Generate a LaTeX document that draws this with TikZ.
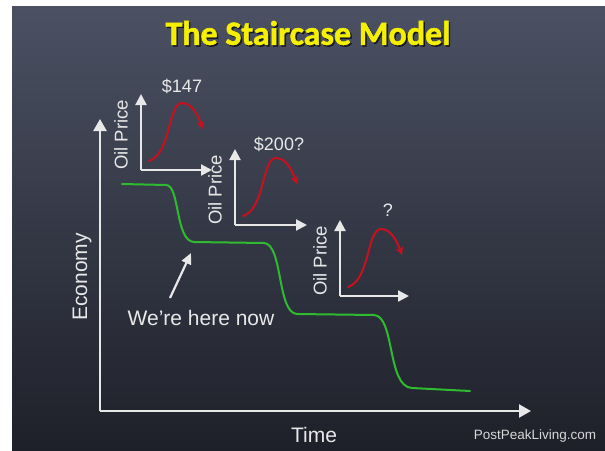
\documentclass[tikz,border=0pt]{standalone}
\usepackage{fontspec}
\setmainfont{Liberation Sans}
\newfontfamily\titlefont[FakeBold=1.5]{Carlito}
\usetikzlibrary{arrows.meta}
\definecolor{bgtop}{HTML}{4B5163}
\definecolor{bgbot}{HTML}{1E2029}
\definecolor{chalk}{HTML}{E8E8E8}
\definecolor{chalkgreen}{HTML}{2FBB2F}
\definecolor{chalkred}{HTML}{C8101E}
\definecolor{titleyellow}{HTML}{F4F000}
\definecolor{credit}{HTML}{D8D8D8}
\tikzset{
  chalkline/.style={draw=chalk,line width=2.2pt},
  bigarrow/.style={chalkline,-{Triangle[width=13pt,length=12pt]}},
  smallarrow/.style={chalkline,-{Triangle[width=11pt,length=11pt]}},
  redcurve/.style={draw=chalkred,line width=2pt,line cap=round,-{Stealth[length=8pt,width=8pt]}},
  greencurve/.style={draw=chalkgreen,line width=2pt,line cap=round},
  lbl/.style={text=chalk,inner sep=0pt,font=\fontsize{21}{25}\selectfont},
  oillbl/.style={text=chalk,inner sep=0pt,rotate=90,font=\fontsize{18.5}{22}\selectfont},
  pricelbl/.style={text=chalk,inner sep=0pt,font=\fontsize{18}{22}\selectfont},
  titlestyle/.style={inner sep=0pt,font=\titlefont\bfseries\fontsize{34}{38}\selectfont},
}
\begin{document}
\begin{tikzpicture}[x=1pt,y=-1pt]
\useasboundingbox (0,0) rectangle (605,450);
\fill[white] (0,0) rectangle (605,450);
\shade[top color=bgtop,bottom color=bgbot] (12,6) rectangle (605,450);

% title with shadow
\node[titlestyle,text=black,opacity=0.6] (titleshadow) at (309.5,34.5) {The Staircase Model};
\node[titlestyle,text=titleyellow] (title) at (308,33) {The Staircase Model};

% main axes
\coordinate (origin) at (100,411);
\coordinate (ytip) at (100,119);
\coordinate (xtip) at (531,411);
\draw[bigarrow] (origin) -- (ytip);
\draw[bigarrow] (origin) -- (xtip);
\node[lbl,rotate=90] (econ) at (82,277) {Economy};
\node[lbl] (time) at (314,435) {Time};
\node[text=credit,inner sep=0pt,font=\fontsize{13.5}{16}\selectfont] (credit) at (535,436) {PostPeakLiving.com};

% staircase
\draw[greencurve] (122,184) -- (166,185)
  .. controls (180,185) and (175,241) .. (194,242)
  -- (264,243)
  .. controls (283,244) and (277,313) .. (297,314)
  -- (374,315)
  .. controls (395,316) and (387,387) .. (412,388)
  -- (470,391);

% we're here now
\node[lbl] (here) at (201,318) {We’re here now};
\coordinate (heretail) at (170,298);
\coordinate (herehead) at (191,253);
\draw[chalkline,-{Triangle[width=10pt,length=11pt]}] (heretail) -- (herehead);

% oil price mini charts
\foreach \i/\ox/\oy/\w/\lab/\lx/\ly in {1/141/170/71/{\$147}/182/86, 2/235/225/72/{\$200?}/279/144, 3/340/296/69/{?}/388/210}{
  \coordinate (o\i) at (\ox,\oy);
  \coordinate (v\i) at (\ox,\oy-76);
  \coordinate (h\i) at (\ox+\w,\oy);
  \draw[smallarrow] (o\i) -- (v\i);
  \draw[smallarrow] (o\i) -- (h\i);
  \node[oillbl] (oil\i) at (\ox-20,\oy-35) {Oil Price};
  \node[pricelbl] (price\i) at (\lx,\ly) {\lab};
  \draw[redcurve] (\ox+8,\oy-9) .. controls (\ox+30,\oy-16) and (\ox+27,\oy-67) .. (\ox+41,\oy-67)
    .. controls (\ox+52,\oy-67) and (\ox+58,\oy-52) .. (\ox+62,\oy-41);
}
\end{tikzpicture}
\end{document}
